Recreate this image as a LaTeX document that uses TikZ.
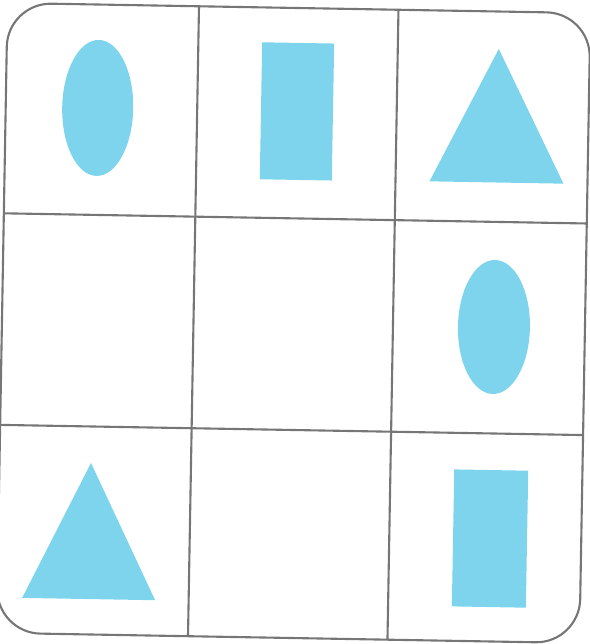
\documentclass[tikz,border=0pt]{standalone}
\usepackage{xcolor}
\usepackage{tikz}
\usetikzlibrary{calc}
\definecolor{shapeblue}{RGB}{125,212,236}
\definecolor{linegray}{RGB}{118,118,118}

\begin{document}
\begin{tikzpicture}[x=0.02cm, y=0.02cm,
    blueshape/.style={fill=shapeblue},
    gridline/.style={draw=linegray, line width=1.2pt}]
  \useasboundingbox (-294,-322) rectangle (295,322);
  \begin{scope}[rotate=-1]
    % Frame and grid lines
    \def\rC{25}
    \coordinate (NW) at (-292,314);
    \coordinate (SE) at (291,-316);
    \draw[gridline, rounded corners=\rC] (NW) rectangle (SE);
    \draw[gridline] (-100.5,314) -- (-100.5,-316) (99,314) -- (99,-316);
    \draw[gridline] (-292,103.6) -- (291,103.6) (-292,-108) -- (291,-108);
    % Top row
    \fill[blueshape] (-200,210.6) ellipse (35.5 and 68);
    \fill[blueshape] (-36.7,142.1) rectangle (35.3,279.1);
    \fill[blueshape] (133,143) -- (267,143) -- (200,276.6) -- cycle;
    % Middle row
    \fill[blueshape] (200,-1.5) ellipse (36 and 67);
    % Bottom row
    \fill[blueshape] (-267,-280.6) -- (-134,-280.6) -- (-200.5,-144.5) -- cycle;
    \fill[blueshape] (162.8,-144.6) rectangle (236.8,-281.6);
  \end{scope}
\end{tikzpicture}
\end{document}
